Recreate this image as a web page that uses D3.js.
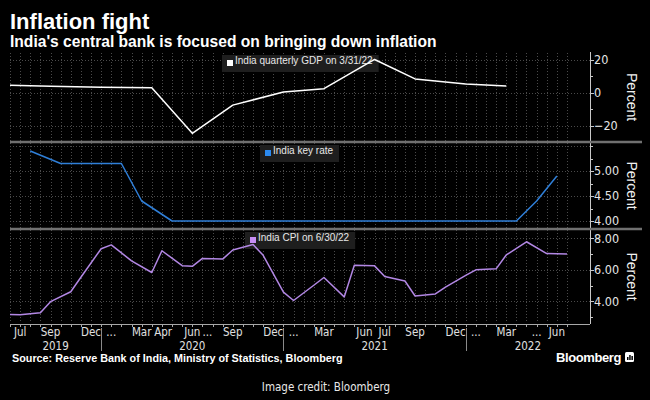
<!DOCTYPE html>
<html>
<head>
<meta charset="UTF-8">
<script src="https://d3js.org/d3.v7.min.js"></script>
<style>
  body { margin: 0; background: #000; }
  svg { display: block; font-family: "Liberation Sans", Arial, sans-serif; }
  .narrow { font-family: "Liberation Sans Narrow", "DejaVu Sans Condensed", sans-serif; }
</style>
</head>
<body>
<svg width="650" height="400"></svg>
<script>
// India quarterly GDP, % y/y (quarter end)
const gdpDates = ["2019-06-30","2019-09-30","2019-12-31","2020-03-31","2020-06-30","2020-09-30",
                  "2020-12-31","2021-03-31","2021-06-30","2021-09-30","2021-12-31","2022-03-31"];
const gdpValues = [4.6, 4.0, 3.3, 3.0, -24.4, -7.4, 0.5, 2.5, 20.1, 8.4, 5.4, 4.1];

// RBI repo rate at each policy meeting
const rateDates = ["2019-08-07","2019-10-04","2019-12-05","2020-02-06","2020-03-27","2020-05-22",
                   "2020-08-06","2020-10-09","2020-12-04","2021-02-05","2021-04-07","2021-06-04",
                   "2021-08-06","2021-10-08","2021-12-08","2022-02-10","2022-04-08","2022-05-04","2022-06-08"];
const rateValues = [5.40, 5.15, 5.15, 5.15, 4.40, 4.00,
                    4.00, 4.00, 4.00, 4.00, 4.00, 4.00,
                    4.00, 4.00, 4.00, 4.00, 4.00, 4.40, 4.90];

// CPI, % y/y (month end)
const cpiDates = ["2019-06-30","2019-07-31","2019-08-31","2019-09-30","2019-10-31","2019-11-30","2019-12-31",
                  "2020-01-31","2020-02-29","2020-03-31","2020-04-30","2020-05-31","2020-06-30",
                  "2020-07-31","2020-08-31","2020-09-30","2020-10-31","2020-11-30","2020-12-31",
                  "2021-01-31","2021-02-28","2021-03-31","2021-04-30","2021-05-31","2021-06-30",
                  "2021-07-31","2021-08-31","2021-09-30","2021-10-31","2021-11-30","2021-12-31",
                  "2022-01-31","2022-02-28","2022-03-31","2022-04-30","2022-05-31","2022-06-30"];
const cpiValues = [3.18, 3.15, 3.28, 3.99, 4.62, 5.54, 7.35,
                   7.59, 6.58, 5.84, 7.22, 6.27, 6.23,
                   6.73, 6.69, 7.27, 7.61, 6.93, 4.59,
                   4.06, 5.03, 5.52, 4.29, 6.30, 6.26,
                   5.59, 5.30, 4.35, 4.48, 4.91, 5.66,
                   6.01, 6.07, 6.95, 7.79, 7.04, 7.01];

// x-axis labels
const tickMonths = ["2019-07","2019-09","2019-12","2020-01","2020-03","2020-04","2020-06","2020-07",
                    "2020-09","2020-12","2021-01","2021-03","2021-06","2021-07","2021-09","2021-12",
                    "2022-01","2022-03","2022-05","2022-06"];
const tickLabels = ["Jul","Sep","Dec","...","Mar","Apr","Jun","...",
                    "Sep","Dec","...","Mar","Jun","Jul","Sep","Dec",
                    "...","Mar","...","Jun"];
const years = ["2019","2020","2021","2022"];

// y-axis ticks
const gdpTicks = [20, 0, -20];
const gdpMinor = [10, -10];
const rateTicks = [4.00, 4.50, 5.00];
const rateMinor = [4.25, 4.75, 5.25, 5.50];
const cpiTicks = [8, 6, 4];
const cpiMinor = [7, 5, 3];

const svg = d3.select("svg");
const left = 10, right = 590, axisY = 324;

// bloomberg spaces every observation date evenly
const allDates = Array.from(new Set([...gdpDates, ...cpiDates, ...rateDates])).sort();
const x = d3.scalePoint().domain(allDates).range([left, 567]);

const panels = [
  { top: 52, bottom: 142, y: d3.scaleLinear().domain([-29.6, 24.6]).range([142, 52]),
    ticks: gdpTicks, minor: gdpMinor, fmt: d3.format("d"),
    dates: gdpDates, values: gdpValues, color: "#ffffff", sq: "#ffffff",
    legend: "India quarterly GDP on 3/31/22" },
  { top: 142, bottom: 229, y: d3.scaleLinear().domain([3.84, 5.58]).range([229, 142]),
    ticks: rateTicks, minor: rateMinor, fmt: d3.format(".2f"),
    dates: rateDates, values: rateValues, color: "#2f7fd8", sq: "#2b8af0",
    legend: "India key rate" },
  { top: 229, bottom: axisY, y: d3.scaleLinear().domain([2.57, 8.6]).range([324, 229]),
    ticks: cpiTicks, minor: cpiMinor, fmt: d3.format(".2f"),
    dates: cpiDates, values: cpiValues, color: "#b287e4", sq: "#c68ef5",
    legend: "India CPI on 6/30/22" }
];

// titles
svg.append("text").attr("x", 10).attr("y", 29).attr("fill", "#fff")
  .attr("font-weight", "bold").attr("font-size", 22).text("Inflation fight");
svg.append("text").attr("x", 10).attr("y", 47).attr("fill", "#fff")
  .attr("font-weight", "bold").attr("font-size", 15.6)
  .text("India's central bank is focused on bringing down inflation");

panels.forEach(p => {
  const g = svg.append("g");
  // grid
  g.selectAll(".vg").data(allDates).enter().append("line")
    .attr("x1", d => Math.round(x(d)) + 0.5).attr("x2", d => Math.round(x(d)) + 0.5)
    .attr("y1", p.top + 1).attr("y2", p.bottom - 1)
    .attr("stroke", "#4a4a4a").attr("stroke-dasharray", "1,2");
  g.selectAll(".hg").data(p.ticks.concat(p.minor.filter(v => v === 5.50))).enter().append("line")
    .attr("x1", left).attr("x2", right)
    .attr("y1", d => Math.round(p.y(d)) + 0.5).attr("y2", d => Math.round(p.y(d)) + 0.5)
    .attr("stroke", "#4a4a4a").attr("stroke-dasharray", "1,2");

  // right axis
  g.append("line").attr("x1", right + 0.5).attr("x2", right + 0.5)
    .attr("y1", p.top).attr("y2", p.bottom).attr("stroke", "#c8c8c8");
  g.selectAll(".mt").data(p.ticks).enter().append("line")
    .attr("x1", right).attr("x2", right + 4)
    .attr("y1", d => Math.round(p.y(d)) + 0.5).attr("y2", d => Math.round(p.y(d)) + 0.5)
    .attr("stroke", "#c8c8c8");
  g.selectAll(".mn").data(p.minor).enter().append("line")
    .attr("x1", right).attr("x2", right + 3)
    .attr("y1", d => Math.round(p.y(d)) + 0.5).attr("y2", d => Math.round(p.y(d)) + 0.5)
    .attr("stroke", "#c8c8c8");
  g.selectAll(".tl").data(p.ticks).enter().append("text")
    .attr("class", "narrow")
    .attr("x", right + 4).attr("y", d => p.y(d)).attr("dy", "0.35em")
    .attr("fill", "#e6e6e6").attr("font-size", 12.5)
    .text(d => p.fmt(d));
  g.append("text")
    .attr("transform", `translate(627,${(p.top + p.bottom) / 2}) rotate(90)`)
    .attr("text-anchor", "middle").attr("fill", "#f0f0f0").attr("font-size", 14)
    .text("Percent");

  // legend, centred on the plot (drawn under the line)
  const lg = g.append("g");
  const box = lg.append("rect").attr("fill", "#1e1e1e");
  const txt = lg.append("text").attr("fill", "#e8e8e8").attr("font-size", 10)
    .attr("y", p.top + 11.5).text(p.legend);
  const tw = txt.node().getComputedTextLength();
  const bw = tw + 19;
  const bx = Math.round((left + right) / 2 - bw / 2);
  box.attr("x", bx).attr("y", p.top + 3).attr("width", bw).attr("height", 17);
  lg.append("rect").attr("x", bx + 5).attr("y", p.top + 8).attr("width", 6).attr("height", 6)
    .attr("fill", p.sq);
  txt.attr("x", bx + 13);

  // series
  const pts = p.dates.map((d, i) => ({ date: d, value: p.values[i] }));
  g.append("path").datum(pts)
    .attr("fill", "none").attr("stroke", p.color).attr("stroke-width", 1.5)
    .attr("stroke-linejoin", "round")
    .attr("d", d3.line().x(d => x(d.date)).y(d => p.y(d.value)));
});

// panel separators
svg.selectAll(".sep").data([142, 229]).enter().append("line")
  .attr("x1", left).attr("x2", 642).attr("y1", d => d).attr("y2", d => d)
  .attr("stroke", "#707070").attr("stroke-width", 2.5);

// bottom axis
svg.append("line").attr("x1", left).attr("x2", right)
  .attr("y1", axisY + 0.5).attr("y2", axisY + 0.5).attr("stroke", "#a8a8a8");
svg.selectAll(".bt").data(allDates).enter().append("line")
  .attr("x1", d => Math.round(x(d)) + 0.5).attr("x2", d => Math.round(x(d)) + 0.5)
  .attr("y1", axisY).attr("y2", axisY + 3).attr("stroke", "#a8a8a8");

const firstInMonth = m => allDates.find(d => d.startsWith(m));
const monthText = svg.selectAll(".ml").data(tickMonths).enter().append("text")
  .attr("class", "narrow")
  .attr("x", d => x(firstInMonth(d))).attr("y", 335.5)
  .attr("text-anchor", "middle").attr("fill", "#e0e0e0").attr("font-size", 11.5)
  .text((d, i) => tickLabels[i]);
// push a label right when it runs into the one before it
let prevEnd = -Infinity;
monthText.each(function () {
  const b = this.getBBox();
  if (b.x < prevEnd + 2) {
    const shift = prevEnd + 2 - b.x;
    d3.select(this).attr("x", +d3.select(this).attr("x") + shift);
    prevEnd = b.x + b.width + shift;
  } else {
    prevEnd = b.x + b.width;
  }
});

// year separators and labels
const yearEnds = years.slice(0, -1).map(y => x(y + "-12-31"));
yearEnds.forEach(xe => {
  svg.append("line").attr("x1", Math.round(xe) + 0.5).attr("x2", Math.round(xe) + 0.5)
    .attr("y1", 328).attr("y2", 351).attr("stroke", "#8a8a8a");
});
const bounds = [left, ...yearEnds, right];
svg.selectAll(".yl").data(years).enter().append("text")
  .attr("class", "narrow")
  .attr("x", (d, i) => (bounds[i] + bounds[i + 1]) / 2).attr("y", 349.5)
  .attr("text-anchor", "middle").attr("fill", "#e0e0e0").attr("font-size", 11.5)
  .text(d => d);

// footer
svg.append("text").attr("x", 12).attr("y", 362).attr("fill", "#fff")
  .attr("font-weight", "bold").attr("font-size", 10.8)
  .text("Source: Reserve Bank of India, Ministry of Statistics, Bloomberg");
svg.append("text").attr("x", 621).attr("y", 362).attr("text-anchor", "end").attr("fill", "#fff")
  .attr("font-weight", "bold").attr("font-size", 13).attr("letter-spacing", -0.4)
  .text("Bloomberg");
const logo = svg.append("g").attr("transform", "translate(625,352)");
logo.append("rect").attr("width", 9).attr("height", 10).attr("rx", 1.5).attr("fill", "#fff");
logo.selectAll(".lb").data([[2, 5, 1.5], [4.2, 3, 1.5], [6.4, 4, 1.5]]).enter().append("rect")
  .attr("x", d => d[0]).attr("y", d => d[1]).attr("width", d => d[2]).attr("height", d => 8 - d[1])
  .attr("fill", "#000");
svg.append("text").attr("x", 326).attr("y", 391).attr("text-anchor", "middle")
  .attr("fill", "#e8e8e8").attr("font-size", 11.5).attr("class", "narrow")
  .text("Image credit: Bloomberg");
</script>
</body>
</html>
